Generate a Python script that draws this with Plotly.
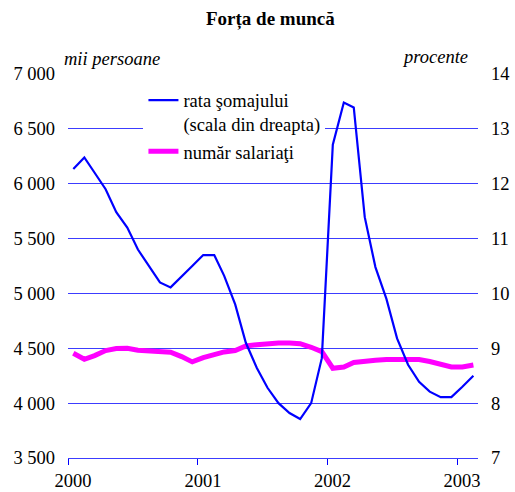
import pandas as pd
import plotly.graph_objects as go

# luni (mijlocul lunii), ian 2000 - feb 2003
months = pd.date_range("2000-01-01", periods=38, freq="MS") + pd.Timedelta(days=15)

rata_somaj = [12.27, 12.48, 12.2, 11.9, 11.48, 11.2, 10.8, 10.5, 10.2, 10.11, 10.3, 10.5,
              10.7, 10.7, 10.32, 9.8, 9.1, 8.64, 8.28, 8.0, 7.82, 7.71, 8.0, 8.82,
              12.71, 13.48, 13.39, 11.39, 10.48, 9.9, 9.18, 8.7, 8.39, 8.21, 8.11, 8.11,
              8.3, 8.5]

numar_salariati = [4455, 4400, 4433, 4479, 4497, 4500, 4482, 4473, 4473, 4464, 4424, 4376,
                   4415, 4448, 4467, 4479, 4521, 4533, 4542, 4548, 4548, 4542, 4509, 4470,
                   4318, 4330, 4370, 4385, 4391, 4397, 4400, 4400, 4397, 4379, 4358, 4330,
                   4330, 4348]

year_ticks = ["2000-01-01", "2001-01-01", "2002-01-01", "2003-01-01"]
year_labels = ["2000", "2001", "2002", "2003"]
left_ticks = [3500, 4000, 4500, 5000, 5500, 6000, 6500, 7000]
left_labels = ["3 500", "4 000", "4 500", "5 000", "5 500", "6 000", "6 500", "7 000"]
right_ticks = [7, 8, 9, 10, 11, 12, 13, 14]

FONT = "Liberation Serif"
GRID = "#3c3cff"

fig = go.Figure()
fig.add_trace(go.Scatter(
    x=months, y=rata_somaj, yaxis="y2", mode="lines",
    name="rata şomajului<br>(scala din dreapta)",
    line=dict(color="#0000ff", width=2.2)
))
fig.add_trace(go.Scatter(
    x=months, y=numar_salariati, mode="lines",
    name="număr salariaţi",
    line=dict(color="#ff00ff", width=5)
))

fig.update_layout(
    width=515, height=492,
    margin=dict(l=68, r=37, t=74, b=34, autoexpand=False),
    paper_bgcolor="white", plot_bgcolor="white",
    font=dict(family=FONT, size=18.5, color="black"),
    title=dict(text="<b>Forța de muncă</b>", x=0.525, xanchor="center",
               y=0.963, yanchor="middle", font=dict(family=FONT, size=19),
               automargin=False),
    xaxis=dict(
        type="date", range=["2000-01-01", "2003-03-01"],
        tickvals=year_ticks, ticktext=year_labels,
        ticks="outside", ticklen=6, tickcolor="#0000ff",
        showline=True, linecolor=GRID, linewidth=1,
        showgrid=False, zeroline=False, ticklabelshift=5, automargin=False,
    ),
    yaxis=dict(
        range=[3500, 7000], tickvals=left_ticks, ticktext=left_labels,
        showgrid=True, gridcolor=GRID, gridwidth=1,
        zeroline=False, showline=False, ticks="", ticklabelstandoff=12,
        automargin=False,
    ),
    yaxis2=dict(
        range=[7, 14], tickvals=right_ticks, overlaying="y", side="right",
        showgrid=False, zeroline=False, showline=False, ticks="",
        ticklabelstandoff=12, automargin=False,
    ),
    legend=dict(
        x=0.184, y=0.98, xanchor="left", yanchor="top",
        bgcolor="white", borderwidth=0, valign="top",
        font=dict(family=FONT, size=18.5), tracegroupgap=0,
    ),
    showlegend=True,
)

fig.add_annotation(text="<i>mii persoane</i>", xref="paper", yref="paper",
                   x=-0.015, y=1.04, xanchor="left", yanchor="middle",
                   showarrow=False, font=dict(family=FONT, size=18.5))
fig.add_annotation(text="<i>procente</i>", xref="paper", yref="paper",
                   x=0.98, y=1.045, xanchor="right", yanchor="middle",
                   showarrow=False, font=dict(family=FONT, size=18.5))

fig.write_html("out.html", config={"displayModeBar": False},
               post_script="document.body.style.margin='0';")
